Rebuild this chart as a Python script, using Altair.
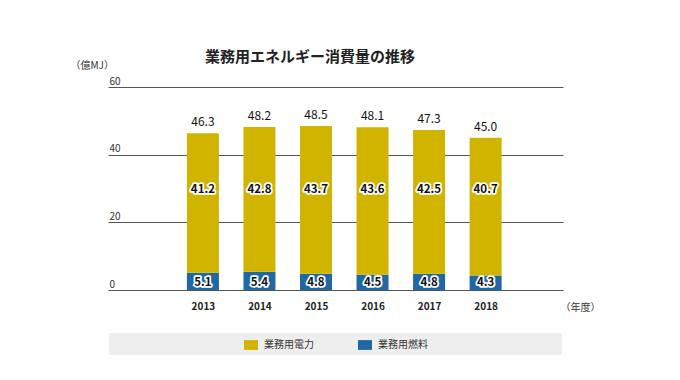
import altair as alt
import pandas as pd

years = [2013, 2014, 2015, 2016, 2017, 2018]
power = [41.2, 42.8, 43.7, 43.6, 42.5, 40.7]   # 業務用電力
fuel = [5.1, 5.4, 4.8, 4.5, 4.8, 4.3]          # 業務用燃料
totals = [46.3, 48.2, 48.5, 48.1, 47.3, 45.0]
series = ["業務用電力", "業務用燃料"]
colors = ["#d0b400", "#1f68a4"]
FONT = "Noto Sans CJK JP"

rows = []
for y, p, f in zip(years, power, fuel):
    rows.append({"year": y, "series": series[1], "value": f, "order": 0})
    rows.append({"year": y, "series": series[0], "value": p, "order": 1})
df = pd.DataFrame(rows)
df_p = pd.DataFrame({"year": years, "power": power, "fuel": fuel, "total": totals})

xscale = alt.Scale(domain=[2011.41, 2019.28])
yscale = alt.Scale(domain=[0, 60])

bars = alt.Chart(df).mark_bar(size=32).encode(
    x=alt.X("year:Q", scale=xscale,
            axis=alt.Axis(values=years, format="d", grid=False, ticks=False, domain=False,
                          labelFontWeight="bold", labelFontSize=10, labelPadding=11,
                          labelColor="#222", labelFont=FONT,
                          title="（年度）", titleFont=FONT, titleFontSize=10, titleFontWeight="normal",
                          titleColor="#333", titleAngle=0, titleAlign="left", titleBaseline="middle",
                          titleX=452, titleY=17)),
    y=alt.Y("value:Q", stack="zero", scale=yscale,
            axis=alt.Axis(values=[0, 20, 40, 60], grid=True, gridColor="#555", gridWidth=1,
                          ticks=False, domain=False, labelAlign="left", labelBaseline="bottom",
                          labelPadding=-1, labelOffset=-1, labelFontSize=10, labelColor="#333",
                          labelFont=FONT,
                          title="（億MJ）", titleFont=FONT, titleFontSize=10, titleFontWeight="normal",
                          titleColor="#333", titleAngle=0, titleAlign="left", titleBaseline="middle",
                          titleX=-38, titleY=-22)),
    color=alt.Color("series:N", scale=alt.Scale(domain=series, range=colors),
                    legend=alt.Legend(title=None, orient="none", legendX=136, legendY=251,
                                      direction="horizontal", symbolType="M-1,-0.7L1,-0.7L1,0.7L-1,0.7Z",
                                      symbolSize=196, symbolStrokeWidth=0, labelFontSize=10,
                                      labelFont=FONT, labelColor="#333", labelOffset=6,
                                      columnPadding=44, padding=0)),
    order=alt.Order("order:Q"),
)

legend_bg = alt.Chart(df_p).mark_rect(color="#eeeeee").encode(
    x=alt.value(1), x2=alt.value(454), y=alt.value(246), y2=alt.value(268)
)

def halo_text(field, ypos, size, weight):
    base = alt.Chart(df_p).encode(
        x=alt.X("year:Q", scale=xscale),
        y=alt.value(ypos),
        text=alt.Text(f"{field}:Q", format=".1f"),
    )
    halo = base.mark_text(fontSize=size, fontWeight=weight, font=FONT, stroke="white",
                          strokeWidth=3.5, strokeJoin="round", fill="white", baseline="middle")
    fg = base.mark_text(fontSize=size, fontWeight=weight, font=FONT, color="#111",
                        baseline="middle")
    return halo + fg

power_lbl = halo_text("power", 103, 11.5, "bold")
fuel_lbl = halo_text("fuel", 196, 11.5, "bold")

total_lbl = alt.Chart(df_p).mark_text(fontSize=12, font=FONT, color="#111", baseline="bottom",
                                      dy=-4).encode(
    x=alt.X("year:Q", scale=xscale),
    y=alt.Y("total:Q", scale=yscale),
    text=alt.Text("total:Q", format=".1f"),
)

chart = alt.layer(legend_bg, bars, power_lbl, fuel_lbl, total_lbl).properties(
    width=455, height=203,
    autosize=alt.AutoSizeParams(type="none"),
    padding={"left": 100, "top": 79, "right": 100, "bottom": 70},
    title=alt.TitleParams("業務用エネルギー消費量の推移", font=FONT, fontSize=15, fontWeight="bold",
                          color="#222", anchor="start", dx=97, offset=-5, frame="group"),
).configure(background="white").configure_view(stroke=None)

chart.save("out.html", embed_options={"renderer": "svg", "actions": False})
